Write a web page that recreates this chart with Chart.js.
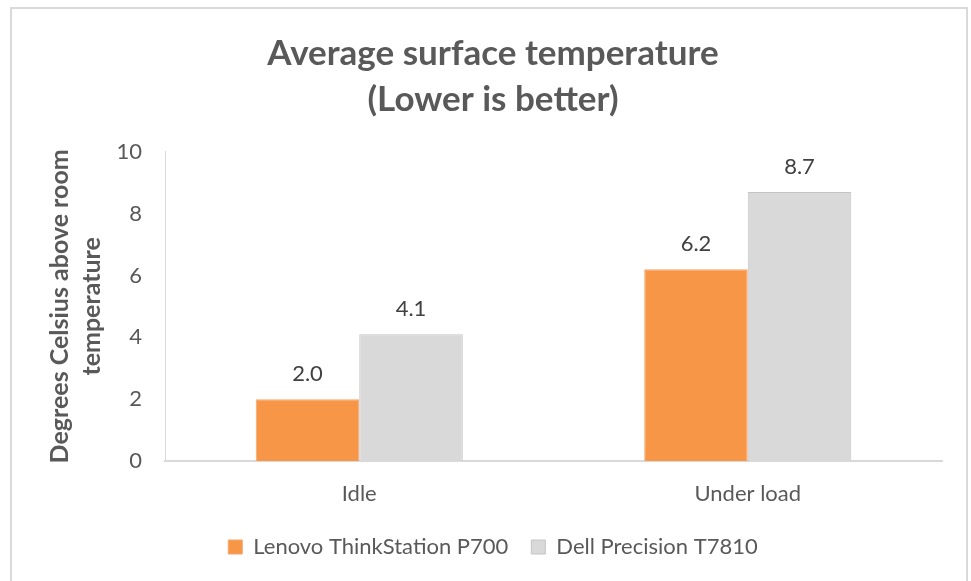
<!DOCTYPE html>
<html>
<head>
<meta charset="utf-8">
<script src="https://cdn.jsdelivr.net/npm/chart.js@4.4.1/dist/chart.umd.min.js"></script>
<style>
html,body{margin:0;padding:0;background:#fff;}
#wrap{position:relative;width:971px;height:581px;}
</style>
</head>
<body>
<div id="wrap"><canvas id="c" width="971" height="581"></canvas></div>
<script>
const categories = ['Idle', 'Under load'];
const lenovoValues = [2.0, 6.2];
const dellValues = [4.1, 8.7];
const seriesNames = ['Lenovo ThinkStation P700', 'Dell Precision T7810'];
const titleLines = ['Average surface temperature', '(Lower is better)'];
const yTitleLines = ['Degrees Celsius above room', 'temperature'];

const FONT = 'Lato, "Open Sans", sans-serif';
const GREY_TEXT = '#595959';

const framePlugin = {
  id: 'frame',
  beforeDraw(chart) {
    const ctx = chart.ctx;
    ctx.save();
    ctx.fillStyle = '#fff';
    ctx.fillRect(0, 0, chart.width, chart.height);
    ctx.strokeStyle = '#d9d9d9';
    ctx.lineWidth = 2;
    ctx.strokeRect(11, 8, 956, 600);
    ctx.restore();
  }
};

const labelPlugin = {
  id: 'valueLabels',
  afterDatasetsDraw(chart) {
    const ctx = chart.ctx;
    ctx.save();
    ctx.font = '22px ' + FONT;
    ctx.fillStyle = '#404040';
    ctx.textAlign = 'center';
    ctx.textBaseline = 'middle';
    chart.data.datasets.forEach((ds, i) => {
      const meta = chart.getDatasetMeta(i);
      meta.data.forEach((bar, j) => {
        ctx.fillText(ds.data[j].toFixed(1), bar.x, bar.y - 25);
      });
    });
    ctx.restore();
  }
};

new Chart(document.getElementById('c'), {
  type: 'bar',
  data: {
    labels: categories,
    datasets: [
      { label: seriesNames[0], data: lenovoValues, backgroundColor: '#f79646', borderColor: '#f4a76c', borderWidth: 1 },
      { label: seriesNames[1], data: dellValues, backgroundColor: '#d9d9d9', borderColor: '#c4c4c4', borderWidth: 1 }
    ]
  },
  options: {
    responsive: false,
    animation: false,
    layout: { padding: { left: 44, right: 29, top: 0, bottom: 13 } },
    datasets: { bar: { categoryPercentage: 0.533, barPercentage: 1.0 } },
    plugins: {
      title: {
        display: true,
        text: titleLines,
        color: GREY_TEXT,
        font: { family: FONT, size: 35, weight: 'bold', lineHeight: 1.31 },
        padding: { top: 31, bottom: 29 }
      },
      legend: {
        position: 'bottom',
        labels: {
          color: GREY_TEXT,
          font: { family: FONT, size: 22 },
          boxWidth: 14,
          boxHeight: 14,
          padding: 23
        }
      },
      tooltip: { enabled: false }
    },
    scales: {
      x: {
        grid: { display: false },
        border: { display: true, color: '#d9d9d9', width: 2 },
        ticks: { color: GREY_TEXT, font: { family: FONT, size: 22 }, padding: 12 },
        afterFit(scale) { scale.height = 52; }
      },
      y: {
        min: 0, max: 10,
        grid: { display: false },
        border: { display: true, color: '#d9d9d9', width: 1 },
        ticks: { stepSize: 2, color: GREY_TEXT, font: { family: FONT, size: 22 }, padding: 15 },
        title: {
          display: true,
          text: yTitleLines,
          color: GREY_TEXT,
          font: { family: FONT, size: 25, weight: 'bold', lineHeight: 1.28 },
          padding: { top: 0, bottom: 0 }
        },
        afterFit(scale) { scale.width = 121; }
      }
    }
  },
  plugins: [framePlugin, labelPlugin]
});
</script>
</body>
</html>
